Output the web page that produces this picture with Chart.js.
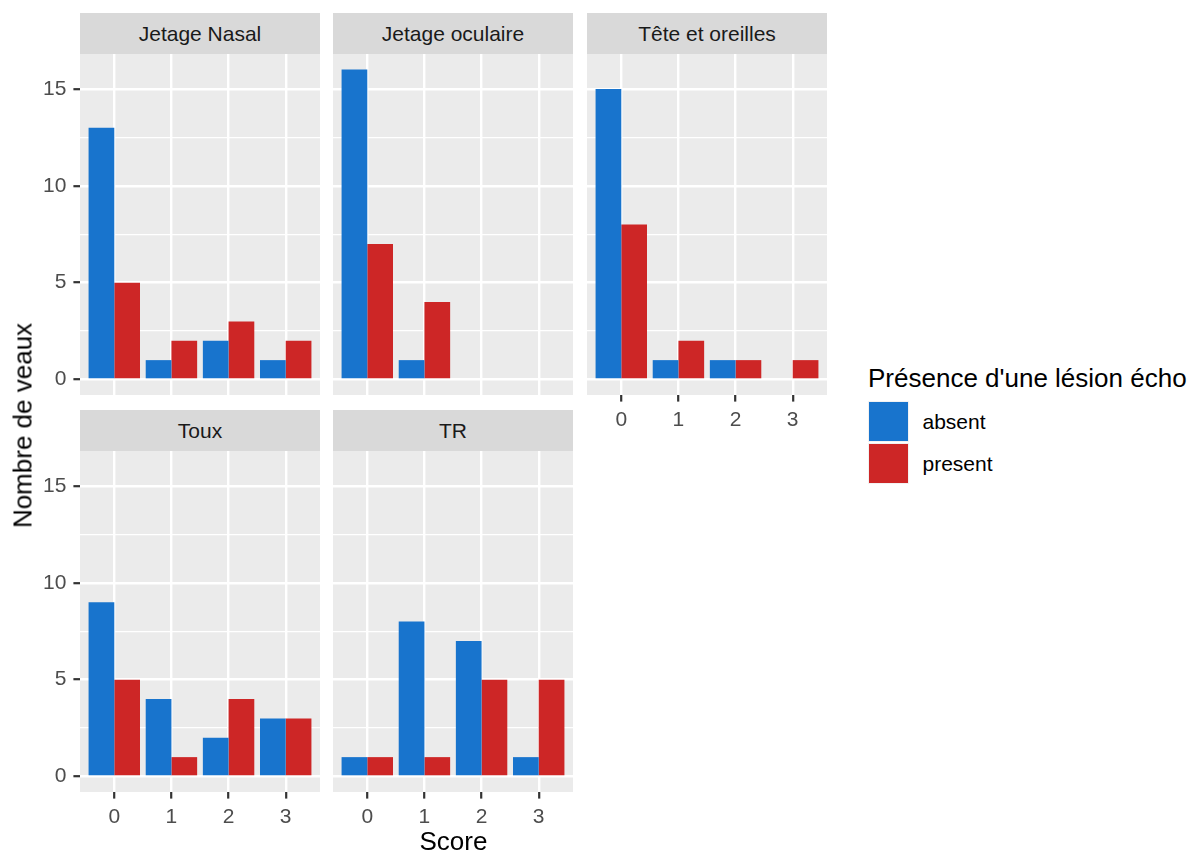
<!DOCTYPE html>
<html lang="fr">
<head>
<meta charset="utf-8">
<title>Nombre de veaux par score</title>
<script src="https://cdn.jsdelivr.net/npm/chart.js@4.4.1/dist/chart.umd.min.js"></script>
<style>
  html, body { margin: 0; padding: 0; background: #fff; }
  body {
    width: 1201px; height: 855px; position: relative; overflow: hidden;
    font-family: 'Liberation Sans', Arial, sans-serif;
  }
  canvas, .strip, .txt, .key { position: absolute; }
  .strip {
    background: #D9D9D9; color: #1A1A1A; font-size: 21px;
    height: 41px; line-height: 41px; text-align: center; white-space: nowrap;
  }
  .txt { white-space: nowrap; color: #000; }
  .title { font-size: 26px; line-height: 29px; }
  .key { width: 41px; height: 41px; background: #F2F2F2; box-sizing: border-box; border: 1.5px solid #F2F2F2; }
  .key span { display: block; width: 100%; height: 100%; }
  .keylab { font-size: 21px; line-height: 41px; }
</style>
</head>
<body>
<script>
const scores = [0, 1, 2, 3];
const groups = ['absent', 'present'];
const groupColors = ['#1874CD', '#CD2626'];

const nasalAbsent = [13, 1, 2, 1];
const nasalPresent = [5, 2, 3, 2];
const oculaireAbsent = [16, 1, 0, 0];
const oculairePresent = [7, 4, 0, 0];
const teteAbsent = [15, 1, 1, 0];
const tetePresent = [8, 2, 1, 1];
const touxAbsent = [9, 4, 2, 3];
const touxPresent = [5, 1, 4, 3];
const trAbsent = [1, 8, 7, 1];
const trPresent = [1, 1, 5, 5];

const yMajorTicks = [0, 5, 10, 15];
const yMinorTicks = [2.5, 7.5, 12.5];

const facets = [
  { name: 'Jetage Nasal', absent: nasalAbsent, present: nasalPresent },
  { name: 'Jetage oculaire', absent: oculaireAbsent, present: oculairePresent },
  { name: 'Tête et oreilles', absent: teteAbsent, present: tetePresent },
  { name: 'Toux', absent: touxAbsent, present: touxPresent },
  { name: 'TR', absent: trAbsent, present: trPresent }
];

// layout of the facet grid (pixels)
const colLeft = [80, 333, 587];
const stripTop = [13, 409.5];
const panelW = 240;
const stripH = 41;
const panelH = 341;

Chart.defaults.font.family = "'Liberation Sans', Arial, sans-serif";

const panelBackground = {
  id: 'panelBackground',
  beforeDraw(chart) {
    const { ctx, chartArea: a } = chart;
    ctx.save();
    ctx.fillStyle = '#EBEBEB';
    ctx.fillRect(a.left, a.top, a.right - a.left, a.bottom - a.top);
    ctx.restore();
  }
};

function addDiv(cls, text, style) {
  const d = document.createElement('div');
  d.className = cls;
  d.textContent = text;
  Object.assign(d.style, style);
  document.body.appendChild(d);
  return d;
}

facets.forEach((f, idx) => {
  const row = Math.floor(idx / 3);
  const col = idx % 3;
  const showY = col === 0;
  // bottom row, and the facet with nothing below it, get the x axis
  const showX = row === 1 || col === 2;
  const yAxisW = showY ? 80 : 0;
  const xAxisH = showX ? 50 : 0;
  const panelTop = stripTop[row] + stripH;

  addDiv('strip', f.name, {
    left: colLeft[col] + 'px', top: stripTop[row] + 'px', width: panelW + 'px'
  });

  const canvas = document.createElement('canvas');
  canvas.width = panelW + yAxisW;
  canvas.height = panelH + xAxisH;
  canvas.style.left = (colLeft[col] - yAxisW) + 'px';
  canvas.style.top = panelTop + 'px';
  document.body.appendChild(canvas);

  new Chart(canvas, {
    type: 'bar',
    data: {
      datasets: groups.map((g, i) => ({
        label: g,
        data: scores.map((s, j) => ({ x: s, y: (i === 0 ? f.absent : f.present)[j] })),
        backgroundColor: groupColors[i],
        borderWidth: 0,
        inflateAmount: 0,
        categoryPercentage: 0.9,
        barPercentage: 1
      }))
    },
    options: {
      responsive: false,
      animation: false,
      events: [],
      layout: { padding: 0 },
      plugins: { legend: { display: false }, tooltip: { enabled: false } },
      scales: {
        x: {
          type: 'linear',
          min: -0.6,
          max: 3.6,
          offset: false,
          afterBuildTicks: s => { s.ticks = scores.map(v => ({ value: v })); },
          afterFit: s => { s.height = xAxisH; s.paddingLeft = 0; s.paddingRight = 0; },
          border: { display: false },
          grid: {
            offset: false,
            color: '#FFFFFF', lineWidth: 2.4,
            drawTicks: showX, tickLength: 6.6, tickColor: '#333333', tickWidth: 2.2
          },
          ticks: {
            display: showX, autoSkip: false, maxRotation: 0, padding: 6,
            color: '#4D4D4D', font: { size: 21 }, callback: v => String(v)
          }
        },
        y: {
          type: 'linear',
          min: -0.8,
          max: 16.8,
          afterBuildTicks: s => {
            s.ticks = [...yMajorTicks, ...yMinorTicks].sort((a, b) => a - b).map(v => ({ value: v }));
          },
          afterFit: s => { s.width = yAxisW; s.paddingTop = 0; s.paddingBottom = 0; },
          border: { display: false },
          grid: {
            color: '#FFFFFF',
            lineWidth: c => yMajorTicks.includes(c.tick.value) ? 2.4 : 1.2,
            drawTicks: showY, tickLength: 6.6,
            tickColor: c => yMajorTicks.includes(c.tick.value) ? '#333333' : 'rgba(0,0,0,0)',
            tickWidth: 2.2
          },
          ticks: {
            display: showY, autoSkip: false, padding: 7,
            color: '#4D4D4D', font: { size: 21 },
            callback: v => yMajorTicks.includes(v) ? String(v) : ''
          }
        }
      }
    },
    plugins: [panelBackground]
  });
});

// axis titles
addDiv('txt title', 'Nombre de veaux', {
  left: (23 - 150) + 'px', top: (425 - 14.5) + 'px', width: '300px', textAlign: 'center',
  transform: 'rotate(-90deg)'
});
addDiv('txt title', 'Score', {
  left: (453.5 - 100) + 'px', top: '826.5px', width: '200px', textAlign: 'center'
});

// legend
addDiv('txt title', "Présence d'une lésion écho", { left: '868px', top: '364px' });
groups.forEach((g, i) => {
  const top = 401 + i * 41.5;
  const key = document.createElement('div');
  key.className = 'key';
  key.style.left = '868px';
  key.style.top = top + 'px';
  const fill = document.createElement('span');
  fill.style.background = groupColors[i];
  key.appendChild(fill);
  document.body.appendChild(key);
  addDiv('txt keylab', g, { left: '922.5px', top: top + 'px' });
});
</script>
</body>
</html>
